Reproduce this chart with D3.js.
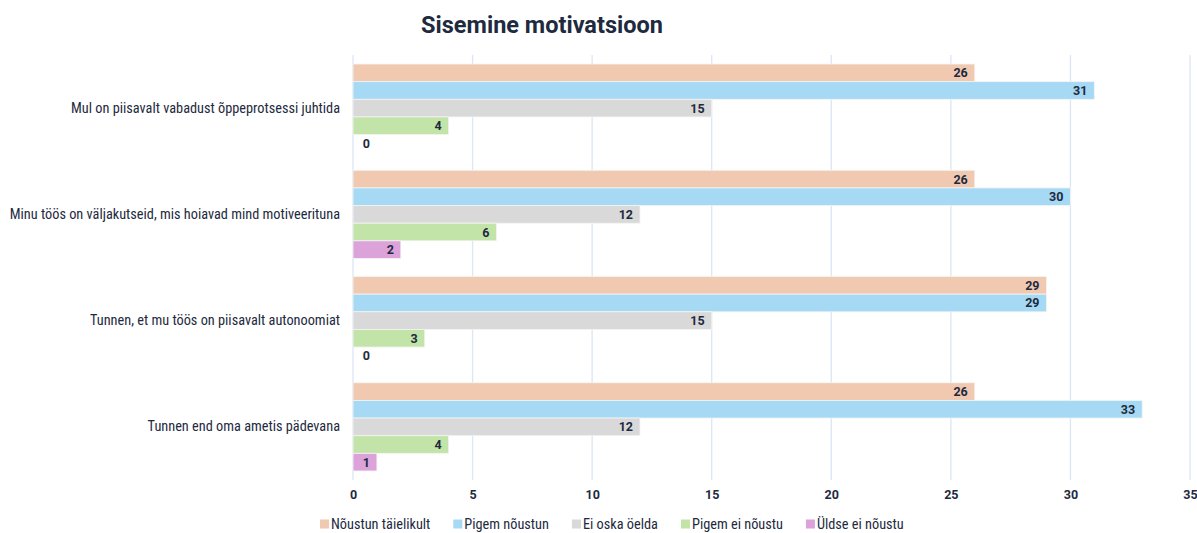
<!DOCTYPE html>
<html><head><meta charset="utf-8">
<script src="https://cdn.jsdelivr.net/npm/d3@7"></script>
<style>body{margin:0;background:#fff}svg{display:block}</style>
</head><body><svg id="c" width="1197" height="533"></svg>
<script>
const categories = ["Mul on piisavalt vabadust õppeprotsessi juhtida","Minu töös on väljakutseid, mis hoiavad mind motiveerituna","Tunnen, et mu töös on piisavalt autonoomiat","Tunnen end oma ametis pädevana"];
const seriesNames = ["Nõustun täielikult","Pigem nõustun","Ei oska öelda","Pigem ei nõustu","Üldse ei nõustu"];
const noustunTaielikult = [26,26,29,26];
const pigemNoustun = [31,30,29,33];
const eiOskaOelda = [15,12,15,12];
const pigemEiNoustu = [4,6,3,4];
const uldseEiNoustu = [0,2,0,1];
const tickValues = [0,5,10,15,20,25,30,35];
const colors = ["#F1C9B0","#A6D9F4","#D9D9D9","#C3E4A9","#DBA3DA"];

const seriesValues = [noustunTaielikult,pigemNoustun,eiOskaOelda,pigemEiNoustu,uldseEiNoustu];
const font = "'Liberation Sans Narrow','Roboto Condensed',Roboto,sans-serif";
const boldFont = "Roboto,sans-serif";
const textCol = "#1E2A3E";
const svg = d3.select("#c");
const mLeft = 353, mRight = 1190, mTop = 55, mBottom = 480;
const x = d3.scaleLinear().domain([0,35]).range([mLeft,mRight]);
const y = d3.scaleBand().domain(categories).range([mTop,mBottom]).paddingInner(0.17).paddingOuter(0.085);
const yi = d3.scaleBand().domain(seriesNames).range([0,y.bandwidth()]);

svg.append("text").attr("x",542).attr("y",33).attr("text-anchor","middle")
  .attr("font-family","Roboto,sans-serif").attr("font-weight","bold").attr("font-size",23.5)
  .attr("fill",textCol).text("Sisemine motivatsioon");

// grid
svg.append("g").selectAll("line").data(tickValues).join("line")
  .attr("x1",d=>x(d)).attr("x2",d=>x(d)).attr("y1",mTop).attr("y2",mBottom)
  .attr("stroke","#DCE6F4").attr("stroke-width",1.3);

// x axis
const xa = svg.append("g").attr("transform",`translate(0,${mBottom})`)
  .call(d3.axisBottom(x).tickValues(tickValues).tickSize(0).tickPadding(10));
xa.select(".domain").remove();
xa.selectAll("text").attr("font-family",boldFont).attr("font-weight","bold").attr("font-size",12.5).attr("fill",textCol);

// y axis
const ya = svg.append("g").attr("transform",`translate(${mLeft-13},0)`)
  .call(d3.axisLeft(y).tickSize(0).tickPadding(0));
ya.select(".domain").remove();
ya.selectAll("text").attr("font-family",font).attr("font-size",14.3).attr("fill",textCol);

// bars
categories.forEach((cat,ci)=>{
  seriesNames.forEach((s,si)=>{
    const v = seriesValues[si][ci];
    const yy = y(cat)+yi(s);
    if(v>0) svg.append("rect").attr("x",x(0)).attr("y",yy).attr("width",x(v)-x(0)).attr("height",yi.bandwidth())
      .attr("fill",colors[si]).attr("stroke","#F4F4F4").attr("stroke-width",0.8);
    svg.append("text").attr("x",Math.max(x(v)-7,x(0)+17)).attr("y",yy+yi.bandwidth()/2+4.5)
      .attr("text-anchor","end").attr("font-family",boldFont).attr("font-weight","bold").attr("font-size",12.5)
      .attr("fill",textCol).text(v);
  });
});

// legend
const lg = svg.append("g").attr("transform","translate(320,529)");
let lx = 0;
seriesNames.forEach((s,i)=>{
  const g = lg.append("g").attr("transform",`translate(${lx},0)`);
  g.append("rect").attr("x",0).attr("y",-9.5).attr("width",9).attr("height",9).attr("fill",colors[i]);
  const t = g.append("text").attr("x",11).attr("y",0).attr("font-family",font).attr("font-size",14.3).attr("fill",textCol).text(s);
  lx += 11 + t.node().getComputedTextLength() + 23;
});
</script></body></html>
